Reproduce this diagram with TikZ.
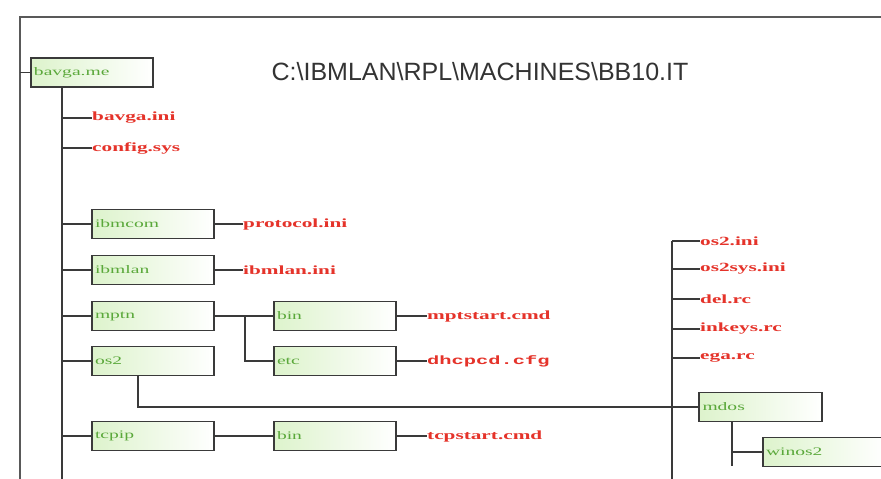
\documentclass[tikz,border=0pt]{standalone}
\usepackage{fontspec}
\setmainfont{Liberation Serif}
\newfontfamily\titlefont{Liberation Sans}
\newfontfamily\lblfont[FakeStretch=1.7]{Liberation Serif}
\newfontfamily\lblmono[FakeStretch=1.7]{Liberation Mono}
\definecolor{lnc}{HTML}{3A3A3A}
\definecolor{redc}{HTML}{E5332A}
\definecolor{grnc}{HTML}{5AA83A}
\definecolor{boxg}{HTML}{DDF3CC}
\tikzset{
  conn/.style={draw=lnc, line width=1.8pt},
  folder/.style={draw=lnc, line width=1.8pt, left color=boxg, right color=white,
    minimum width=122pt, minimum height=29pt, text width=116pt, align=left,
    inner xsep=2pt, inner ysep=0pt, text=grnc,
    font=\lblfont\fontsize{11.5}{12}\selectfont},
  file/.style={anchor=west, inner sep=0pt, text=redc,
    font=\lblfont\bfseries\fontsize{12.5}{12}\selectfont},
  filemono/.style={file, font=\lblmono\bfseries\fontsize{12}{12}\selectfont},
}
\begin{document}
\begin{tikzpicture}[x=1pt,y=-1pt]
\useasboundingbox (0,0) rectangle (881,479);
\clip (0,0) rectangle (881,479);
\fill[white] (0,0) rectangle (881,479);
% frame
\coordinate (fbl) at (20,479);
\coordinate (ftl) at (20,17);
\coordinate (ftr) at (881,17);
\draw[conn, draw=black!65] (fbl) -- (ftl) -- (ftr);
% title
\node[font=\titlefont\fontsize{25}{25}\selectfont, text=black!80, inner sep=0pt] (title) at (480,72)
  {C:\textbackslash IBMLAN\textbackslash RPL\textbackslash MACHINES\textbackslash BB10.IT};
% root
\node[folder] (root) at (92,72.5) {bavga.me};
\coordinate (rs) at (20,72.5);
\draw[conn] (rs) -- (root.west);
\coordinate (tk) at (62,479);
\draw[conn] (root.south -| tk) -- (tk);
% root files
\node[file] (f1) at (92,118) {bavga.ini};
\node[file] (f2) at (92,148) {config.sys};
\draw[conn] (f1.west -| tk) -- (f1.west);
\draw[conn] (f2.west -| tk) -- (f2.west);
% left column folders
\node[folder] (ibmcom) at (153,224) {ibmcom};
\node[folder] (ibmlan) at (153,270) {ibmlan};
\node[folder] (mptn) at (153,316) {mptn};
\node[folder] (os2) at (153,361) {os2};
\node[folder] (tcpip) at (153,436) {tcpip};
\foreach \n in {ibmcom,ibmlan,mptn,os2,tcpip}
  \draw[conn] (\n.west -| tk) -- (\n.west);
% files of ibmcom / ibmlan
\node[file] (prot) at (243,224) {protocol.ini};
\node[file] (ibmini) at (243,270) {ibmlan.ini};
\draw[conn] (ibmcom.east) -- (prot.west);
\draw[conn] (ibmlan.east) -- (ibmini.west);
% middle column
\node[folder] (bin1) at (335,316) {bin};
\node[folder] (etc) at (335,361) {etc};
\node[folder] (bin2) at (335,436) {bin};
\coordinate (br) at (245,316);
\draw[conn] (mptn.east) -- (bin1.west);
\draw[conn] (br) |- (etc.west);
\draw[conn] (tcpip.east) -- (bin2.west);
\node[file] (mpts) at (427,316) {mptstart.cmd};
\node[filemono] (dhcp) at (427,361) {dhcpcd.cfg};
\node[file] (tcps) at (427,436) {tcpstart.cmd};
\draw[conn] (bin1.east) -- (mpts.west);
\draw[conn] (etc.east) -- (dhcp.west);
\draw[conn] (bin2.east) -- (tcps.west);
% right part (os2 contents)
\coordinate (rtop) at (672,241);
\coordinate (rbot) at (672,479);
\draw[conn] (rtop) -- (rbot);
\node[file] (r1) at (700,241) {os2.ini};
\node[file] (r2) at (700,269) {os2sys.ini};
\node[file] (r3) at (700,299) {del.rc};
\node[file] (r4) at (700,329) {inkeys.rc};
\node[file] (r5) at (700,358) {ega.rc};
\foreach \n in {r1,r2,r3,r4,r5}
  \draw[conn] (\n.west -| rtop) -- (\n.west);
\node[folder, minimum width=123pt] (mdos) at (760.5,407) {mdos};
\coordinate (os2b) at (138,407);
\draw[conn] (os2.south -| os2b) -- (os2b) -- (mdos.west);
\node[folder] (winos) at (824,452) {winos2};
\coordinate (mb) at (732,466);
\draw[conn] (mdos.south -| mb) -- (mb);
\draw[conn] (winos.west -| mb) -- (winos.west);
\end{tikzpicture}
\end{document}
